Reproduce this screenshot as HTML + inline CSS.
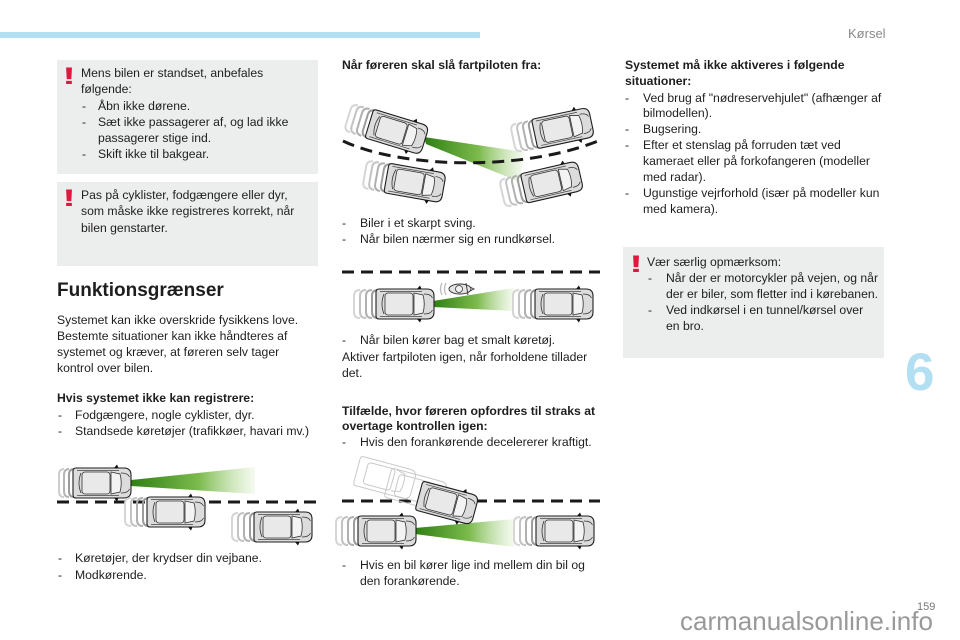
<!DOCTYPE html>
<html><head><meta charset="utf-8">
<style>
html,body{margin:0;padding:0;background:#fff;}
body{width:960px;height:640px;position:relative;overflow:hidden;font-family:"Liberation Sans",Arial,sans-serif;color:#1e1e1e;}
.t{position:absolute;font-size:12.2px;line-height:16.2px;white-space:nowrap;}
.b{font-weight:bold;}
.box{position:absolute;background:#eceded;}
.ex{position:absolute;font-weight:bold;font-size:24px;line-height:24px;color:#e2173e;width:8px;text-align:center;transform:scaleX(1.7);}
</style></head><body>

<div style="position:absolute;left:0;top:32px;width:480px;height:6px;background:#b3dff3;"></div>
<div style="position:absolute;left:848px;top:26px;font-size:13px;line-height:16px;color:#8a8a8a;">Kørsel</div>

<div class="box" style="left:57px;top:60px;width:261px;height:114px;"></div>
<div class="box" style="left:57px;top:182px;width:261px;height:84px;"></div>
<div class="box" style="left:623px;top:247px;width:261px;height:111px;"></div>

<svg width="960" height="640" style="position:absolute;left:0;top:0;" xmlns="http://www.w3.org/2000/svg">
<defs>
<linearGradient id="gA" x1="0" y1="0" x2="1" y2="0">
<stop offset="0" stop-color="#2f7f12"/><stop offset="0.55" stop-color="#7dbb4e"/><stop offset="1" stop-color="#eef7e6" stop-opacity="0.6"/>
</linearGradient>
<g id="car">
<path d="M-26,-15 H22 Q29,-15 29,-8 V8 Q29,15 22,15 H-26 Q-29,15 -29,12 V-12 Q-29,-15 -26,-15 Z" fill="#dcdcdc" stroke="#1e1e1e" stroke-width="1.1"/>
<path d="M-25,-12.5 H17 M-25,12.5 H17" stroke="#444" stroke-width="0.7" fill="none"/>
<rect x="-20" y="-11" width="28" height="22" rx="3" fill="#e9e9e9" stroke="#333" stroke-width="0.8"/>
<path d="M9,-11 L18,-9 Q20.5,0 18,9 L9,11 Z" fill="#f3f3f3" stroke="#333" stroke-width="0.8"/>
<path d="M-21,-10 Q-25,0 -21,10" fill="none" stroke="#333" stroke-width="0.8"/>
<path d="M19,-10 Q26,-10 27.5,-6 M19,10 Q26,10 27.5,6" fill="none" stroke="#333" stroke-width="0.7"/>
<path d="M12,-15 L15,-18.5 L16.5,-15 Z M12,15 L15,18.5 L16.5,15 Z" fill="#111"/>
</g>
<g id="tr" fill="none" stroke-width="2">
<path d="M-27,-14 Q-33,-14 -33,-8 V8 Q-33,14 -27,14" stroke="#9c9c9c"/>
<path d="M-33,-14 Q-39,-14 -39,-8 V8 Q-39,14 -33,14" stroke="#b0b0b0"/>
<path d="M-39,-14 Q-45,-14 -45,-8 V8 Q-45,14 -39,14" stroke="#c3c3c3"/>
<path d="M-45,-14 Q-51,-14 -51,-8 V8 Q-51,14 -45,14" stroke="#d6d6d6"/>
</g>
<g id="tr3" fill="none" stroke-width="2">
<path d="M-28,-14 Q-33,-14 -33,-8 V8 Q-33,14 -28,14" stroke="#9c9c9c"/>
<path d="M-33,-14 Q-38,-14 -38,-8 V8 Q-38,14 -33,14" stroke="#b5b5b5"/>
<path d="M-38,-14 Q-43,-14 -43,-8 V8 Q-43,14 -38,14" stroke="#cdcdcd"/>
</g>
<g id="cg" fill="none" stroke="#c9c9c9" stroke-width="1">
<path d="M-26,-15 H22 Q29,-15 29,-8 V8 Q29,15 22,15 H-26 Q-29,15 -29,12 V-12 Q-29,-15 -26,-15 Z"/>
<rect x="-20" y="-11" width="28" height="22" rx="3"/>
<path d="M9,-11 L18,-9 Q20.5,0 18,9 L9,11"/>
</g>
</defs>

<!-- Image 1 -->
<polygon points="424,137 426,144 520,182 524,152" fill="url(#gA)"/>
<path d="M343,141 C400,168 520,172 598,141" fill="none" stroke="#1a1a1a" stroke-width="3" stroke-dasharray="12 7"/>
<g transform="translate(397,132) rotate(17)"><use href="#tr"/><use href="#car"/></g>
<g transform="translate(415,183) rotate(10)"><use href="#tr"/><use href="#car"/></g>
<g transform="translate(563,128) rotate(-12)"><use href="#tr"/><use href="#car"/></g>
<g transform="translate(552,182) rotate(-13)"><use href="#tr"/><use href="#car"/></g>

<!-- Image 2 -->
<line x1="342" y1="272" x2="600" y2="272" stroke="#1a1a1a" stroke-width="3" stroke-dasharray="12 7"/>
<polygon points="433,301 433,307 514,311 514,288" fill="url(#gA)"/>
<g transform="translate(405,304)"><use href="#tr"/><use href="#car"/></g>
<g transform="translate(564,304)"><use href="#tr"/><use href="#car"/></g>
<g transform="translate(460,289)">
<path d="M-14,-6 Q-17,0 -14,6 M-18,-6 Q-21,0 -18,6" fill="none" stroke="#bbb" stroke-width="1.3"/>
<ellipse cx="0" cy="0" rx="11" ry="5" fill="#e4e4e4" stroke="#333" stroke-width="0.9"/>
<circle cx="-1" cy="0" r="3.5" fill="#f0f0f0" stroke="#333" stroke-width="0.8"/>
<path d="M6,-6 L8,6 M10,-2 L14,0 L10,2" fill="none" stroke="#333" stroke-width="0.9"/>
</g>

<!-- Image 3 -->
<line x1="342" y1="501" x2="600" y2="501" stroke="#1a1a1a" stroke-width="3" stroke-dasharray="12 7"/>
<polygon points="415,528 415,534 514,547 514,519" fill="url(#gA)"/>
<g transform="translate(385,478) rotate(15)"><use href="#cg"/></g>
<g transform="translate(416,490) rotate(15)"><use href="#cg"/></g>
<g transform="translate(447,503) rotate(15)"><use href="#car"/></g>
<g transform="translate(387,531)"><use href="#tr"/><use href="#car"/></g>
<g transform="translate(565,531)"><use href="#tr"/><use href="#car"/></g>

<!-- Image 4 -->
<line x1="57" y1="502" x2="317" y2="502" stroke="#1a1a1a" stroke-width="3" stroke-dasharray="12 7"/>
<polygon points="131,480 131,486 255,494 255,467" fill="url(#gA)"/>
<g transform="translate(102,483)"><use href="#tr3"/><use href="#car"/></g>
<g transform="translate(176,512)"><use href="#tr"/><use href="#car"/></g>
<g transform="translate(283,527)"><use href="#tr"/><use href="#car"/></g>
</svg>

<!-- Left column -->
<div class="ex" style="left:65px;top:65px;">!</div>
<div class="t" style="left:81px;top:65px;">Mens bilen er standset, anbefales</div>
<div class="t" style="left:81px;top:81px;">følgende:</div>
<div class="t" style="left:82px;top:97.5px;">-</div><div class="t" style="left:98px;top:97.5px;">Åbn ikke dørene.</div>
<div class="t" style="left:82px;top:113.5px;">-</div><div class="t" style="left:98px;top:113.5px;">Sæt ikke passagerer af, og lad ikke</div>
<div class="t" style="left:98px;top:129.5px;">passagerer stige ind.</div>
<div class="t" style="left:82px;top:146px;">-</div><div class="t" style="left:98px;top:146px;">Skift ikke til bakgear.</div>

<div class="ex" style="left:65px;top:187px;">!</div>
<div class="t" style="left:81px;top:187px;">Pas på cyklister, fodgængere eller dyr,</div>
<div class="t" style="left:81px;top:203px;">som måske ikke registreres korrekt, når</div>
<div class="t" style="left:81px;top:219.5px;">bilen genstarter.</div>

<div style="position:absolute;left:57px;top:280px;font-size:19px;line-height:22px;font-weight:bold;white-space:nowrap;">Funktionsgrænser</div>
<div class="t" style="left:57px;top:312px;">Systemet kan ikke overskride fysikkens love.</div>
<div class="t" style="left:57px;top:328px;">Bestemte situationer kan ikke håndteres af</div>
<div class="t" style="left:57px;top:344px;">systemet og kræver, at føreren selv tager</div>
<div class="t" style="left:57px;top:360px;">kontrol over bilen.</div>
<div class="t b" style="left:57px;top:390px;">Hvis systemet ikke kan registrere:</div>
<div class="t" style="left:58px;top:406.5px;">-</div><div class="t" style="left:75px;top:406.5px;">Fodgængere, nogle cyklister, dyr.</div>
<div class="t" style="left:58px;top:422.7px;">-</div><div class="t" style="left:75px;top:422.7px;">Standsede køretøjer (trafikkøer, havari mv.)</div>

<div class="t" style="left:58px;top:550px;">-</div><div class="t" style="left:75px;top:550px;">Køretøjer, der krydser din vejbane.</div>
<div class="t" style="left:58px;top:566.5px;">-</div><div class="t" style="left:75px;top:566.5px;">Modkørende.</div>

<!-- Middle column -->
<div class="t b" style="left:342px;top:57px;">Når føreren skal slå fartpiloten fra:</div>
<div class="t" style="left:342px;top:215px;">-</div><div class="t" style="left:360px;top:215px;">Biler i et skarpt sving.</div>
<div class="t" style="left:342px;top:231px;">-</div><div class="t" style="left:360px;top:231px;">Når bilen nærmer sig en rundkørsel.</div>

<div class="t" style="left:342px;top:332px;">-</div><div class="t" style="left:360px;top:332px;">Når bilen kører bag et smalt køretøj.</div>
<div class="t" style="left:342px;top:348.5px;">Aktiver fartpiloten igen, når forholdene tillader</div>
<div class="t" style="left:342px;top:364.5px;">det.</div>
<div class="t b" style="left:342px;top:402.5px;">Tilfælde, hvor føreren opfordres til straks at</div>
<div class="t b" style="left:342px;top:418px;">overtage kontrollen igen:</div>
<div class="t" style="left:342px;top:433.7px;">-</div><div class="t" style="left:360px;top:433.7px;">Hvis den forankørende decelererer kraftigt.</div>

<div class="t" style="left:342px;top:557px;">-</div><div class="t" style="left:360px;top:557px;">Hvis en bil kører lige ind mellem din bil og</div>
<div class="t" style="left:360px;top:572.5px;">den forankørende.</div>

<!-- Right column -->
<div class="t b" style="left:625px;top:57px;">Systemet må ikke aktiveres i følgende</div>
<div class="t b" style="left:625px;top:73px;">situationer:</div>
<div class="t" style="left:625px;top:89.5px;">-</div><div class="t" style="left:643px;top:89.5px;">Ved brug af "nødreservehjulet" (afhænger af</div>
<div class="t" style="left:643px;top:105px;">bilmodellen).</div>
<div class="t" style="left:625px;top:121px;">-</div><div class="t" style="left:643px;top:121px;">Bugsering.</div>
<div class="t" style="left:625px;top:137px;">-</div><div class="t" style="left:643px;top:137px;">Efter et stenslag på forruden tæt ved</div>
<div class="t" style="left:643px;top:153px;">kameraet eller på forkofangeren (modeller</div>
<div class="t" style="left:643px;top:169px;">med radar).</div>
<div class="t" style="left:625px;top:185px;">-</div><div class="t" style="left:643px;top:185px;">Ugunstige vejrforhold (især på modeller kun</div>
<div class="t" style="left:643px;top:200.5px;">med kamera).</div>

<div class="ex" style="left:632px;top:253px;">!</div>
<div class="t" style="left:647px;top:253.7px;">Vær særlig opmærksom:</div>
<div class="t" style="left:648px;top:269.7px;">-</div><div class="t" style="left:666px;top:269.7px;">Når der er motorcykler på vejen, og når</div>
<div class="t" style="left:666px;top:285.7px;">der er biler, som fletter ind i kørebanen.</div>
<div class="t" style="left:648px;top:301.7px;">-</div><div class="t" style="left:666px;top:301.7px;">Ved indkørsel i en tunnel/kørsel over</div>
<div class="t" style="left:666px;top:317.7px;">en bro.</div>

<div style="position:absolute;left:905px;top:346px;font-size:53px;line-height:53px;font-weight:bold;color:#b3dff3;">6</div>

<div style="position:absolute;left:917px;top:601px;font-size:11px;line-height:12px;color:#777;">159</div>
<div style="position:absolute;left:680px;top:608px;font-size:26px;line-height:26px;color:#999;white-space:nowrap;">carmanualsonline.info</div>
</body></html>
